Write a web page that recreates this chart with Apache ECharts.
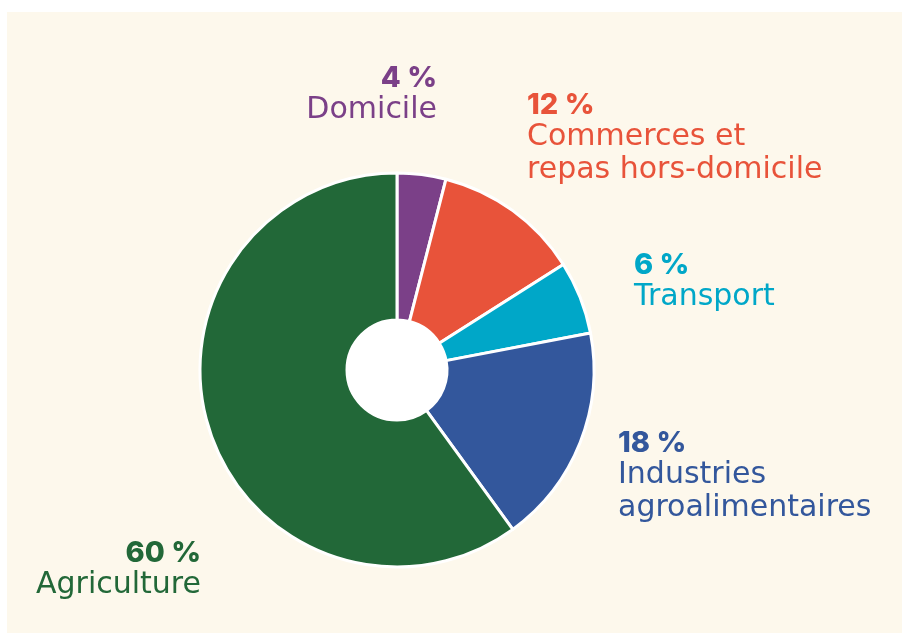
<!DOCTYPE html>
<html>
<head>
<meta charset="utf-8">
<script src="https://cdn.jsdelivr.net/npm/echarts@6/dist/echarts.min.js"></script>
<style>
  html, body { margin: 0; padding: 0; background: #ffffff; }
  #card { position: absolute; left: 7px; top: 12px; width: 895px; height: 621px; background: #fdf8ec; }
  #chart { width: 100%; height: 100%; }
</style>
</head>
<body>
<div id="card"><div id="chart"></div></div>
<script>
// catégories et parts (%)
const categories = ['Domicile', 'Commerces et\nrepas hors-domicile', 'Transport', 'Industries\nagroalimentaires', 'Agriculture'];
const shares = [4, 12, 6, 18, 60];
const colors = ['#7b4088', '#e8533a', '#00a7c8', '#33579c', '#226838'];

// emplacement des étiquettes (coin d'ancrage, dans le repère du graphique)
const labelSpots = [
  { x: 430, y: 50, align: 'right' },
  { x: 520, y: 77, align: 'left' },
  { x: 627, y: 237, align: 'left' },
  { x: 611, y: 415, align: 'left' },
  { x: 194, y: 525, align: 'right' }
];

const chart = echarts.init(document.getElementById('chart'));

chart.setOption({
  backgroundColor: 'transparent',
  series: [
    {
      type: 'pie',
      center: [390, 358],
      radius: [50, 197],
      startAngle: 90,
      clockwise: true,
      avoidLabelOverlap: false,
      itemStyle: { borderColor: '#ffffff', borderWidth: 3 },
      emphasis: { disabled: true },
      labelLine: { show: false },
      label: {
        show: true,
        position: 'outside',
        formatter: (p) => {
          const lines = p.name.split('\n').map(l => '{n|' + l + '}').join('\n');
          return '{p|' + p.value + ' %}\n' + lines;
        },
        rich: {
          p: { fontFamily: 'Inter', fontWeight: 800, fontSize: 29, lineHeight: 32 },
          n: { fontFamily: '"DejaVu Sans"', fontSize: 30, lineHeight: 33 }
        }
      },
      labelLayout: (params) => {
        const s = labelSpots[params.dataIndex];
        return { x: s.x, y: s.y, align: s.align, verticalAlign: 'top' };
      },
      data: categories.map((name, i) => ({
        name,
        value: shares[i],
        itemStyle: { color: colors[i] },
        label: { color: colors[i] }
      }))
    },
    {
      // trou central blanc
      type: 'pie',
      center: [390, 358],
      radius: [0, 50],
      silent: true,
      label: { show: false },
      labelLine: { show: false },
      itemStyle: { color: '#ffffff' },
      data: [{ name: 'centre', value: 1 }]
    }
  ]
});
</script>
</body>
</html>
